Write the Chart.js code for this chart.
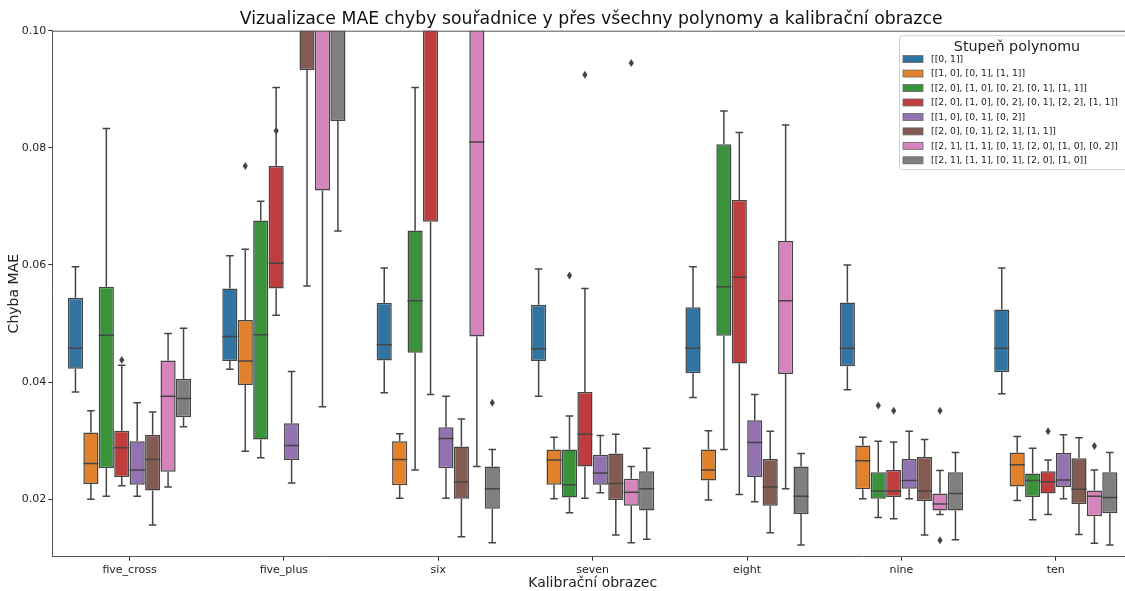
<!DOCTYPE html>
<html>
<head>
<meta charset="utf-8">
<script src="https://cdn.jsdelivr.net/npm/chart.js@4.4.0/dist/chart.umd.min.js"></script>
<style>
  html, body { margin: 0; padding: 0; background: #fff; overflow: hidden; }
  #wrap { width: 1140px; height: 594px; }
</style>
</head>
<body>
<div id="wrap"><canvas id="chart" width="1140" height="594"></canvas></div>
<script>
const categories = ["five_cross", "five_plus", "six", "seven", "eight", "nine", "ten"];

const seriesLabels = [
  "[[0, 1]]",
  "[[1, 0], [0, 1], [1, 1]]",
  "[[2, 0], [1, 0], [0, 2], [0, 1], [1, 1]]",
  "[[2, 0], [1, 0], [0, 2], [0, 1], [2, 2], [1, 1]]",
  "[[1, 0], [0, 1], [0, 2]]",
  "[[2, 0], [0, 1], [2, 1], [1, 1]]",
  "[[2, 1], [1, 1], [0, 1], [2, 0], [1, 0], [0, 2]]",
  "[[2, 1], [1, 1], [0, 1], [2, 0], [1, 0]]"
];

const seriesColors = ["#3274a1", "#e1812c", "#3a923a", "#c03d3e", "#9372b2", "#845b53", "#d684bd", "#7f7f7f"];

// one row per series, one column per category
const whiskerLow = [
  [0.0383, 0.0422, 0.0382, 0.0376, 0.0374, 0.0387, 0.0380],
  [0.0200, 0.0282, 0.0202, 0.0201, 0.0199, 0.0201, 0.0198],
  [0.0205, 0.0271, 0.0250, 0.0177, 0.0285, 0.0169, 0.0165],
  [0.0223, 0.0514, 0.0379, 0.0202, 0.0208, 0.0167, 0.0174],
  [0.0205, 0.0228, 0.0202, 0.0211, 0.0196, 0.0201, 0.0201],
  [0.0156, 0.0564, 0.0136, 0.0139, 0.0143, 0.0139, 0.0140],
  [0.0221, 0.0358, 0.0256, 0.0126, 0.0218, 0.0174, 0.0125],
  [0.0324, 0.0658, 0.0126, 0.0132, 0.0122, 0.0131, 0.0122]
];

const q1 = [
  [0.0423, 0.0436, 0.0437, 0.0436, 0.0415, 0.0427, 0.0417],
  [0.0226, 0.0395, 0.0224, 0.0225, 0.0232, 0.0217, 0.0222],
  [0.0253, 0.0302, 0.0450, 0.0203, 0.0479, 0.0201, 0.0204],
  [0.0238, 0.0560, 0.0674, 0.0256, 0.0432, 0.0204, 0.0210],
  [0.0225, 0.0267, 0.0253, 0.0225, 0.0238, 0.0218, 0.0221],
  [0.0215, 0.0933, 0.0201, 0.0199, 0.0189, 0.0197, 0.0192],
  [0.0247, 0.0727, 0.0478, 0.0189, 0.0414, 0.0181, 0.0171],
  [0.0340, 0.0846, 0.0184, 0.0181, 0.0175, 0.0181, 0.0176]
];

const median = [
  [0.0458, 0.0478, 0.0464, 0.0457, 0.0458, 0.0458, 0.0458],
  [0.0261, 0.0436, 0.0268, 0.0267, 0.0250, 0.0266, 0.0259],
  [0.0480, 0.0481, 0.0539, 0.0225, 0.0563, 0.0214, 0.0232],
  [0.0288, 0.0603, 0.1080, 0.0311, 0.0579, 0.0214, 0.0230],
  [0.0250, 0.0292, 0.0304, 0.0245, 0.0297, 0.0232, 0.0233],
  [0.0268, 0.1100, 0.0230, 0.0227, 0.0221, 0.0214, 0.0217],
  [0.0376, 0.1050, 0.0810, 0.0212, 0.0539, 0.0192, 0.0205],
  [0.0372, 0.1040, 0.0218, 0.0218, 0.0205, 0.0210, 0.0203]
];

const q3 = [
  [0.0544, 0.0560, 0.0535, 0.0532, 0.0528, 0.0536, 0.0524],
  [0.0314, 0.0506, 0.0299, 0.0285, 0.0285, 0.0292, 0.0280],
  [0.0563, 0.0676, 0.0659, 0.0285, 0.0806, 0.0246, 0.0244],
  [0.0317, 0.0769, 0.1500, 0.0383, 0.0711, 0.0250, 0.0248],
  [0.0299, 0.0330, 0.0323, 0.0276, 0.0335, 0.0269, 0.0279],
  [0.0310, 0.1300, 0.0290, 0.0278, 0.0269, 0.0272, 0.0270],
  [0.0437, 0.1500, 0.1400, 0.0235, 0.0641, 0.0210, 0.0215],
  [0.0406, 0.1300, 0.0256, 0.0248, 0.0256, 0.0246, 0.0246]
];

const whiskerHigh = [
  [0.0597, 0.0616, 0.0595, 0.0593, 0.0597, 0.0600, 0.0595],
  [0.0351, 0.0627, 0.0312, 0.0306, 0.0317, 0.0306, 0.0307],
  [0.0833, 0.0709, 0.0903, 0.0342, 0.0863, 0.0299, 0.0287],
  [0.0429, 0.0903, 0.2000, 0.0560, 0.0826, 0.0298, 0.0267],
  [0.0365, 0.0418, 0.0376, 0.0309, 0.0379, 0.0316, 0.0310],
  [0.0349, 0.1800, 0.0337, 0.0311, 0.0316, 0.0302, 0.0305],
  [0.0483, 0.2100, 0.2000, 0.0256, 0.0839, 0.0249, 0.0250],
  [0.0492, 0.1700, 0.0285, 0.0287, 0.0278, 0.0280, 0.0280]
];

// [series, category, value]
const outliers = [
  [3, 0, 0.0438],
  [1, 1, 0.0769],
  [3, 1, 0.0829],
  [7, 2, 0.0365],
  [2, 3, 0.0582],
  [3, 3, 0.0925],
  [6, 3, 0.0945],
  [2, 5, 0.0360],
  [3, 5, 0.0351],
  [6, 5, 0.0351],
  [6, 5, 0.0130],
  [3, 6, 0.0316],
  [6, 6, 0.0291]
];

const yTicks = [0.02, 0.04, 0.06, 0.08, 0.10];

const chartTitle = "Vizualizace MAE chyby souřadnice y přes všechny polynomy a kalibrační obrazce";
const legendTitle = "Stupeň polynomu";

const LINE = "#454545";
const FONT = "'DejaVu Sans', sans-serif";

const clipArea = (ctx, a) => {
  ctx.beginPath();
  ctx.rect(a.left, a.top, a.right - a.left, a.bottom - a.top);
  ctx.clip();
};

const boxplotExtras = {
  id: "boxplotExtras",
  beforeDatasetsDraw(chart) {
    const { ctx, chartArea } = chart;
    const y = chart.scales.y;
    ctx.save();
    clipArea(ctx, chartArea);
    ctx.strokeStyle = LINE;
    ctx.lineWidth = 1.5;
    chart.data.datasets.forEach((ds, i) => {
      chart.getDatasetMeta(i).data.forEach((el, j) => {
        const x = el.x;
        const cap = el.width / 4;
        const lo = y.getPixelForValue(whiskerLow[i][j]);
        const hi = y.getPixelForValue(whiskerHigh[i][j]);
        const b1 = y.getPixelForValue(q1[i][j]);
        const b3 = y.getPixelForValue(q3[i][j]);
        ctx.beginPath();
        ctx.moveTo(x, b1); ctx.lineTo(x, lo);
        ctx.moveTo(x - cap, lo); ctx.lineTo(x + cap, lo);
        ctx.moveTo(x, b3); ctx.lineTo(x, hi);
        ctx.moveTo(x - cap, hi); ctx.lineTo(x + cap, hi);
        ctx.stroke();
      });
    });
    ctx.restore();
  },
  afterDatasetsDraw(chart) {
    const { ctx, chartArea } = chart;
    const y = chart.scales.y;
    ctx.save();
    clipArea(ctx, chartArea);
    ctx.strokeStyle = LINE;
    ctx.lineWidth = 1.5;
    chart.data.datasets.forEach((ds, i) => {
      chart.getDatasetMeta(i).data.forEach((el, j) => {
        const m = y.getPixelForValue(median[i][j]);
        ctx.beginPath();
        ctx.moveTo(el.x - el.width / 2, m);
        ctx.lineTo(el.x + el.width / 2, m);
        ctx.stroke();
      });
    });
    ctx.fillStyle = LINE;
    outliers.forEach(([s, c, v]) => {
      const el = chart.getDatasetMeta(s).data[c];
      const py = y.getPixelForValue(v);
      ctx.beginPath();
      ctx.moveTo(el.x, py - 4);
      ctx.lineTo(el.x + 2.6, py);
      ctx.lineTo(el.x, py + 4);
      ctx.lineTo(el.x - 2.6, py);
      ctx.closePath();
      ctx.fill();
    });
    ctx.restore();
  },
  afterDraw(chart) {
    const { ctx, chartArea } = chart;
    ctx.save();
    // top spine
    ctx.strokeStyle = "#555";
    ctx.lineWidth = 1;
    ctx.beginPath();
    ctx.moveTo(chartArea.left, chartArea.top + 0.5);
    ctx.lineTo(chartArea.right, chartArea.top + 0.5);
    ctx.moveTo(chartArea.right - 0.5, chartArea.top);
    ctx.lineTo(chartArea.right - 0.5, chartArea.bottom);
    ctx.stroke();

    // title, centred over the plot area
    ctx.fillStyle = "#111";
    ctx.font = "17.3px " + FONT;
    ctx.textAlign = "center";
    ctx.textBaseline = "middle";
    ctx.fillText(chartTitle, (chartArea.left + chartArea.right) / 2 - 1.5, 20);

    // legend
    const lx = chartArea.right - 233.5;
    const ly = chartArea.top + 5;
    const lw = 240, lh = 134;
    ctx.fillStyle = "rgba(255,255,255,0.85)";
    ctx.strokeStyle = "#d0d0d0";
    ctx.beginPath();
    ctx.roundRect(lx, ly, lw, lh, 3);
    ctx.fill();
    ctx.stroke();

    ctx.fillStyle = "#222";
    ctx.font = "14.3px " + FONT;
    ctx.fillText(legendTitle, lx + 117.5, ly + 11.5);

    ctx.font = "9.3px " + FONT;
    ctx.textAlign = "left";
    seriesLabels.forEach((label, i) => {
      const ry = ly + 23.4 + i * 14.46;
      ctx.fillStyle = seriesColors[i];
      ctx.fillRect(lx + 3.5, ry - 3.5, 20, 7);
      ctx.strokeStyle = "#666";
      ctx.lineWidth = 0.8;
      ctx.strokeRect(lx + 3.5, ry - 3.5, 20, 7);
      ctx.fillStyle = "#222";
      ctx.fillText(label, lx + 31.5, ry + 0.5);
    });
    ctx.restore();
  }
};

const datasets = seriesLabels.map((label, i) => ({
  label,
  data: categories.map((_, j) => [q1[i][j], q3[i][j]]),
  backgroundColor: seriesColors[i],
  borderColor: LINE,
  borderWidth: 1.5,
  borderSkipped: false,
  categoryPercentage: 0.8,
  barPercentage: 0.98
}));

new Chart(document.getElementById("chart"), {
  type: "bar",
  data: { labels: categories, datasets },
  options: {
    responsive: false,
    animation: false,
    layout: { padding: { left: 0, right: 7, top: 30.7, bottom: 0 } },
    plugins: {
      legend: { display: false },
      tooltip: { enabled: false },
      title: { display: false }
    },
    scales: {
      x: {
        afterFit(scale) { scale.height = 37.3; },
        grid: { drawOnChartArea: false, offset: false, tickLength: 4, color: "#333" },
        border: { color: "#555", width: 1 },
        ticks: { color: "#222", padding: 3, font: { family: FONT, size: 11 } },
        title: {
          display: true,
          text: "Kalibrační obrazec",
          color: "#222",
          font: { family: FONT, size: 14 },
          padding: { top: 0, bottom: 2.5 }
        }
      },
      y: {
        min: 0.0102,
        max: 0.10,
        afterFit(scale) { scale.width = 52.3; },
        afterBuildTicks(scale) { scale.ticks = yTicks.map(v => ({ value: v })); },
        grid: { drawOnChartArea: false, tickLength: 4, color: "#333" },
        border: { color: "#555", width: 1 },
        ticks: {
          color: "#222",
          padding: 2,
          font: { family: FONT, size: 11 },
          callback: v => v.toFixed(2)
        },
        title: {
          display: true,
          text: "Chyba MAE",
          color: "#222",
          font: { family: FONT, size: 14 },
          padding: { top: 6, bottom: 0 }
        }
      }
    }
  },
  plugins: [boxplotExtras]
});
</script>
</body>
</html>
